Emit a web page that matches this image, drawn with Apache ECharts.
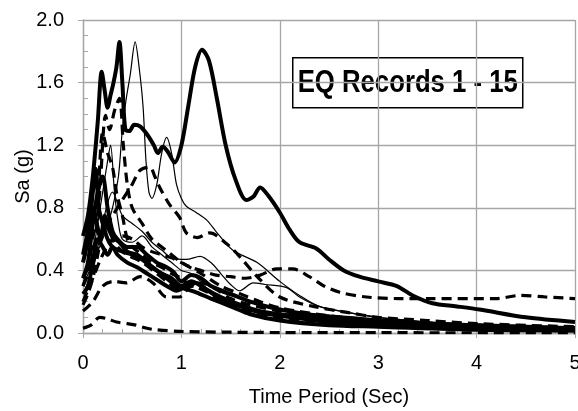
<!DOCTYPE html>
<html>
<head>
  <meta charset="utf-8">
  <title>EQ Records 1 - 15</title>
  <style>
    html, body, #chart { margin: 0; padding: 0; width: 578px; height: 411px; background: #fff; }
  </style>
</head>
<body>
  <div id="chart"></div>
  <script src="https://cdn.jsdelivr.net/npm/echarts@6/dist/echarts.min.js"></script>
  <script>
    // spectral acceleration Sa (g) vs. period T (sec)
    var rec01 = [[0,0.62],[0.05,0.75],[0.1,1.0],[0.15,1.35],[0.19,1.67],[0.22,1.55],[0.25,1.44],[0.28,1.52],[0.31,1.6],[0.34,1.7],[0.37,1.86],[0.4,1.6],[0.43,1.3],[0.47,1.29],[0.52,1.33],[0.58,1.32],[0.65,1.27],[0.72,1.2],[0.76,1.15],[0.81,1.19],[0.86,1.16],[0.93,1.09],[1.0,1.2],[1.07,1.45],[1.14,1.7],[1.21,1.81],[1.28,1.74],[1.36,1.5],[1.45,1.2],[1.55,0.98],[1.66,0.85],[1.73,0.87],[1.8,0.93],[1.88,0.88],[2.0,0.77],[2.1,0.66],[2.2,0.58],[2.37,0.54],[2.5,0.47],[2.65,0.4],[2.81,0.36],[3.0,0.33],[3.19,0.3],[3.35,0.24],[3.55,0.19],[3.8,0.17],[4.03,0.15],[4.5,0.1],[5.0,0.07]];
    var rec02 = [[0,0.3],[0.1,0.45],[0.2,0.6],[0.3,0.8],[0.36,1.0],[0.4,1.3],[0.44,1.5],[0.48,1.65],[0.53,1.86],[0.57,1.7],[0.61,1.45],[0.64,1.1],[0.67,0.9],[0.7,0.86],[0.75,0.95],[0.8,1.15],[0.85,1.25],[0.9,1.15],[0.95,0.95],[1.0,0.86],[1.05,0.81],[1.15,0.77],[1.26,0.72],[1.35,0.65],[1.52,0.53],[1.77,0.45],[2.0,0.33],[2.2,0.24],[2.4,0.17],[2.7,0.13],[3.0,0.1],[3.5,0.07],[4.0,0.05],[5.0,0.03]];
    var rec03 = [[0,0.35],[0.1,0.5],[0.17,0.9],[0.23,1.39],[0.27,1.3],[0.32,1.42],[0.37,1.5],[0.41,1.2],[0.45,0.95],[0.5,0.8],[0.6,0.7],[0.7,0.6],[0.8,0.55],[0.9,0.5],[1.0,0.45],[1.2,0.38],[1.4,0.3],[1.6,0.25],[1.8,0.2],[2.0,0.16],[2.5,0.11],[3.0,0.08],[4.0,0.05],[5.0,0.03]];
    var rec04 = [[0,0.3],[0.1,0.45],[0.2,0.65],[0.3,0.75],[0.4,0.85],[0.5,0.95],[0.58,1.04],[0.68,1.06],[0.73,1.0],[0.78,0.93],[0.88,0.82],[0.98,0.74],[1.05,0.64],[1.16,0.61],[1.29,0.64],[1.46,0.57],[1.59,0.49],[1.77,0.36],[2.0,0.23],[2.34,0.17],[2.7,0.13],[3.0,0.1],[3.5,0.08],[4.0,0.06],[5.0,0.04]];
    var rec05 = [[0,0.2],[0.1,0.35],[0.2,0.5],[0.3,0.6],[0.4,0.62],[0.5,0.6],[0.6,0.55],[0.7,0.52],[0.8,0.5],[0.9,0.48],[1.0,0.45],[1.1,0.42],[1.2,0.4],[1.35,0.37],[1.5,0.36],[1.65,0.35],[1.8,0.37],[1.97,0.41],[2.13,0.41],[2.3,0.36],[2.45,0.3],[2.61,0.26],[2.88,0.23],[3.22,0.22],[3.52,0.22],[4.2,0.22],[4.44,0.24],[4.7,0.23],[5.0,0.22]];
    var rec06 = [[0,0.03],[0.08,0.05],[0.17,0.1],[0.25,0.09],[0.34,0.07],[0.45,0.06],[0.54,0.05],[0.65,0.03],[0.75,0.02],[1.0,0.01],[1.5,0.005],[2.0,0.003],[3.0,0.002],[5.0,0.001]];
    var rec07 = [[0,0.14],[0.1,0.2],[0.2,0.3],[0.31,0.33],[0.44,0.32],[0.58,0.36],[0.71,0.32],[0.85,0.23],[0.98,0.23],[1.1,0.3],[1.2,0.28],[1.4,0.22],[1.6,0.17],[1.8,0.13],[2.0,0.1],[2.5,0.07],[3.0,0.05],[4.0,0.03],[5.0,0.02]];
    var rec08 = [[0,0.25],[0.1,0.4],[0.2,0.7],[0.3,0.9],[0.4,0.75],[0.5,0.7],[0.6,0.65],[0.7,0.58],[0.8,0.53],[0.9,0.48],[1.05,0.47],[1.19,0.49],[1.3,0.45],[1.4,0.38],[1.5,0.31],[1.59,0.27],[1.73,0.32],[1.85,0.31],[2.07,0.29],[2.2,0.23],[2.4,0.17],[2.7,0.13],[3.0,0.1],[3.5,0.07],[4.0,0.05],[5.0,0.03]];
    var rec09 = [[0,0.45],[0.05,0.6],[0.1,0.9],[0.13,1.05],[0.16,0.8],[0.2,0.7],[0.25,0.6],[0.3,0.55],[0.4,0.52],[0.5,0.5],[0.6,0.47],[0.7,0.42],[0.8,0.38],[0.9,0.35],[1.0,0.3],[1.1,0.33],[1.2,0.3],[1.4,0.22],[1.6,0.17],[1.8,0.13],[2.0,0.11],[2.5,0.07],[3.0,0.05],[4.0,0.03],[5.0,0.02]];
    var rec10 = [[0,0.35],[0.05,0.45],[0.1,0.7],[0.15,0.9],[0.2,1.0],[0.25,0.8],[0.3,0.65],[0.35,0.6],[0.45,0.55],[0.55,0.55],[0.65,0.5],[0.75,0.45],[0.85,0.42],[0.92,0.39],[1.0,0.33],[1.1,0.37],[1.2,0.35],[1.3,0.3],[1.5,0.25],[1.7,0.2],[2.0,0.15],[2.5,0.1],[3.0,0.08],[3.5,0.06],[4.0,0.05],[5.0,0.03]];
    var rec11 = [[0,0.25],[0.05,0.3],[0.1,0.45],[0.15,0.6],[0.2,0.55],[0.25,0.5],[0.3,0.55],[0.35,0.5],[0.45,0.45],[0.55,0.42],[0.65,0.38],[0.75,0.34],[0.85,0.3],[0.95,0.27],[1.05,0.3],[1.15,0.32],[1.25,0.28],[1.4,0.23],[1.6,0.18],[1.8,0.14],[2.0,0.12],[2.5,0.09],[3.0,0.06],[4.0,0.04],[5.0,0.03]];
    var rec12 = [[0,0.2],[0.05,0.3],[0.1,0.5],[0.15,0.7],[0.2,0.9],[0.25,1.1],[0.28,1.2],[0.32,0.9],[0.36,0.7],[0.4,0.6],[0.5,0.58],[0.6,0.62],[0.7,0.55],[0.8,0.5],[0.9,0.45],[1.0,0.4],[1.1,0.38],[1.2,0.33],[1.4,0.26],[1.6,0.22],[1.8,0.18],[2.0,0.15],[2.4,0.12],[2.8,0.1],[3.2,0.08],[4.0,0.05],[5.0,0.03]];
    var rec13 = [[0,0.3],[0.05,0.4],[0.1,0.6],[0.15,0.85],[0.2,1.28],[0.25,1.15],[0.3,1.06],[0.34,0.9],[0.4,0.75],[0.45,0.6],[0.5,0.55],[0.6,0.5],[0.7,0.45],[0.8,0.42],[0.9,0.38],[1.0,0.35],[1.1,0.3],[1.2,0.32],[1.35,0.28],[1.5,0.22],[1.7,0.18],[2.0,0.14],[2.3,0.12],[2.6,0.1],[3.0,0.08],[3.5,0.06],[4.0,0.05],[5.0,0.03]];
    var rec14 = [[0,0.5],[0.05,0.65],[0.1,0.8],[0.14,0.7],[0.18,0.6],[0.22,0.75],[0.27,0.65],[0.31,0.61],[0.37,0.58],[0.45,0.52],[0.55,0.5],[0.65,0.45],[0.75,0.4],[0.85,0.35],[0.95,0.3],[1.05,0.28],[1.15,0.26],[1.3,0.22],[1.5,0.17],[1.7,0.12],[2.0,0.08],[2.5,0.05],[3.0,0.04],[4.0,0.02],[5.0,0.015]];
    var rec15 = [[0,0.18],[0.05,0.25],[0.1,0.35],[0.15,0.5],[0.2,0.65],[0.25,0.7],[0.3,0.6],[0.35,0.55],[0.45,0.5],[0.58,0.46],[0.71,0.4],[0.85,0.33],[0.98,0.28],[1.1,0.3],[1.25,0.27],[1.4,0.2],[1.6,0.15],[1.8,0.12],[2.0,0.1],[2.5,0.07],[3.0,0.06],[4.0,0.04],[5.0,0.03]];

    var records = [rec01, rec02, rec03, rec04, rec05, rec06, rec07, rec08, rec09, rec10, rec11, rec12, rec13, rec14, rec15];
    // line look of each record: 'thick', 'thin' or 'dash'
    var looks = ['thick', 'thin', 'dash', 'dash', 'dash', 'dash', 'dash', 'thin', 'thick', 'thick', 'thick', 'thin', 'dash', 'thick', 'dash'];

    var styleFor = {
      thick: { color: '#000', width: 4, type: 'solid' },
      thin: { color: '#000', width: 1.2, type: 'solid' },
      dash: { color: '#000', width: 3.2, type: [10, 6] }
    };

    var gridGray = '#a6a6a6';
    var txtFont = '"Liberation Sans", Arial, sans-serif';

    // draw record 1 last so the thick big-peak curve sits on top
    var series = [];
    for (var i = records.length - 1; i >= 0; i--) {
      series.push({
        name: 'EQ ' + (i + 1),
        type: 'line',
        data: records[i],
        showSymbol: false,
        smooth: 0.3,
        lineStyle: styleFor[looks[i]],
        silent: true,
        animation: false
      });
    }

    var chart = echarts.init(document.getElementById('chart'));
    chart.setOption({
      backgroundColor: '#fff',
      animation: false,
      grid: { left: 83, right: 3, top: 20, bottom: 78, outerBoundsMode: 'none', containLabel: false },
      xAxis: [{
        type: 'value', min: 0, max: 5, interval: 1,
        name: 'Time Period (Sec)', nameLocation: 'middle', nameGap: 54,
        nameMoveOverlap: false,
        nameTextStyle: { fontFamily: txtFont, fontSize: 20, color: '#000' },
        axisLine: { show: true, lineStyle: { color: gridGray, width: 1.3 } },
        axisTick: { show: true, length: 5, lineStyle: { color: gridGray } },
        axisLabel: { fontFamily: txtFont, fontSize: 20, color: '#000', margin: 20 },
        splitLine: { show: true, lineStyle: { color: gridGray, width: 1.3 } }
      }, {
        type: 'value', min: 0, max: 5, interval: 0.2, position: 'bottom',
        axisLine: { show: false },
        axisTick: { show: true, inside: true, length: 4, lineStyle: { color: gridGray } },
        axisLabel: { show: false },
        splitLine: { show: false }
      }],
      yAxis: [{
        type: 'value', min: 0, max: 2, interval: 0.4,
        name: 'Sa (g)', nameLocation: 'middle', nameGap: 50,
        nameMoveOverlap: false,
        nameTextStyle: { fontFamily: txtFont, fontSize: 20, color: '#000' },
        axisLine: { show: true, lineStyle: { color: gridGray, width: 1.3 } },
        axisTick: { show: true, length: 5, lineStyle: { color: gridGray } },
        axisLabel: {
          fontFamily: txtFont, fontSize: 20, color: '#000', margin: 19,
          formatter: function (v) { return v.toFixed(1); }
        },
        splitLine: { show: true, lineStyle: { color: gridGray, width: 1.3 } }
      }, {
        type: 'value', min: 0, max: 2, interval: 0.1, position: 'left', offset: 0,
        axisLine: { show: false },
        axisTick: { show: true, inside: true, length: 5, lineStyle: { color: gridGray } },
        axisLabel: { show: false },
        splitLine: { show: false }
      }],
      series: series,
      graphic: [{
        type: 'group',
        left: 292, top: 57,
        z: 100,
        children: [{
          type: 'rect',
          shape: { x: 0, y: 0, width: 230, height: 50 },
          style: { fill: '#fff', stroke: '#000', lineWidth: 1.5 }
        }, {
          type: 'text',
          x: 115, y: 26,
          scaleX: 0.83,
          style: {
            text: 'EQ Records 1 - 15',
            font: 'bold 31px ' + txtFont,
            fill: '#000',
            align: 'center',
            verticalAlign: 'middle'
          }
        }]
      }]
    });
  </script>
</body>
</html>
